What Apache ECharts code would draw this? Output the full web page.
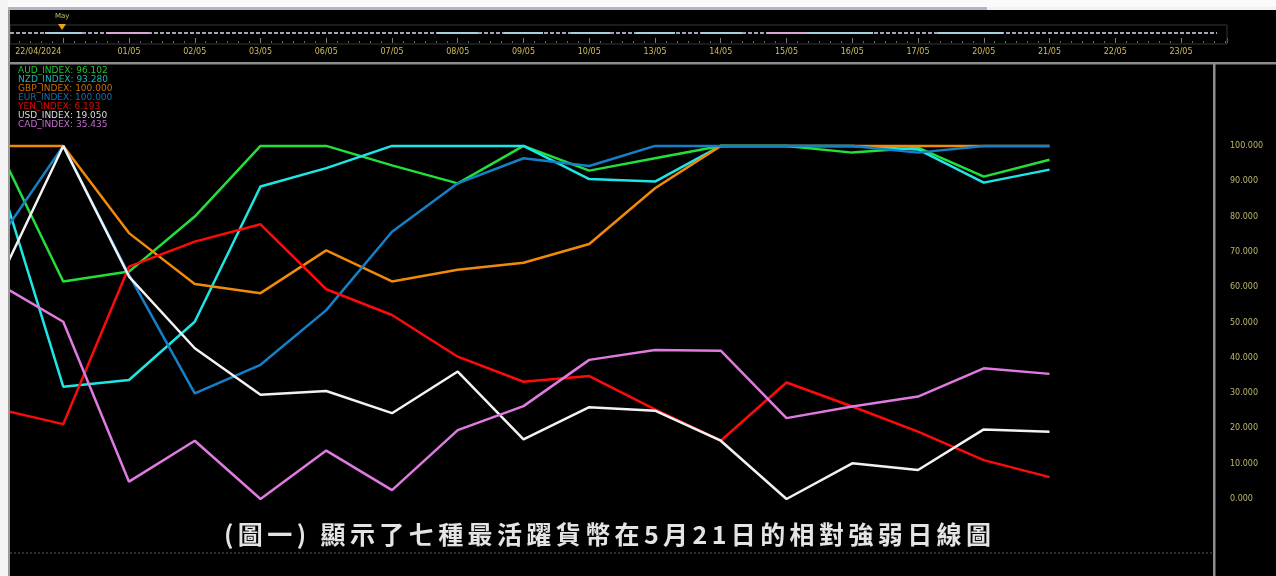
<!DOCTYPE html>
<html>
<head>
<meta charset="utf-8">
<script src="https://cdn.jsdelivr.net/npm/echarts@6/dist/echarts.min.js"></script>
<style>
  html, body { margin: 0; padding: 0; background: #000; }
  #chart { width: 1276px; height: 576px; }
</style>
</head>
<body>
<div id="chart"></div>
<script>
// trading days, index 0 = 29/04 (just off the left edge)
const days = ['29/04', '30/04', '01/05', '02/05', '03/05', '06/05', '07/05', '08/05', '09/05', '10/05',
  '13/05', '14/05', '15/05', '16/05', '17/05', '20/05', '21/05', '22/05', '23/05'];
const navLabels = ['', '22/04/2024', '01/05', '02/05', '03/05', '06/05', '07/05', '08/05', '09/05', '10/05',
  '13/05', '14/05', '15/05', '16/05', '17/05', '20/05', '21/05', '22/05', '23/05'];

const aud = [100, 61.6, 64.4, 80.0, 100, 100, 94.5, 89.4, 100, 93.0, 96.5, 100, 100, 98.1, 99.5, 91.3, 96.102];
const nzd = [92.5, 31.8, 33.7, 50.2, 88.5, 93.7, 100, 100, 100, 90.6, 89.9, 100, 100, 100, 99.0, 89.6, 93.28];
const gbp = [100, 100, 75.3, 60.9, 58.3, 70.4, 61.6, 64.9, 66.9, 72.2, 88.0, 100, 100, 100, 100, 100, 100];
const eur = [72.9, 100, 63.5, 29.9, 38.0, 53.5, 75.7, 89.4, 96.5, 94.3, 100, 100, 100, 100, 98.1, 100, 100];
const yen = [25.5, 21.2, 65.8, 72.9, 77.8, 59.4, 52.1, 40.3, 33.2, 34.8, 25.4, 16.5, 33.0, 26.2, 19.1, 11.0, 6.193];
const usd = [60.8, 100, 63.0, 42.7, 29.5, 30.6, 24.3, 36.1, 16.9, 26.0, 25.0, 16.5, 0, 10.1, 8.2, 19.7, 19.05];
const cad = [61.1, 50.2, 4.9, 16.5, 0, 13.7, 2.5, 19.5, 26.3, 39.4, 42.2, 42.0, 22.9, 26.2, 29.0, 37.0, 35.435];

const names = ['AUD_INDEX', 'NZD_INDEX', 'GBP_INDEX', 'EUR_INDEX', 'YEN_INDEX', 'USD_INDEX', 'CAD_INDEX'];
const values = [aud, nzd, gbp, eur, yen, usd, cad];
const lineColors = ['#22e03a', '#1ee6e6', '#f08a0a', '#1480c8', '#ff0a0a', '#f2f2f2', '#e07ae0'];
const labelColors = ['#1fc42f', '#1cb4b4', '#c86e08', '#1a6cb4', '#d80808', '#dcdcdc', '#c46cd0'];

const caption = '(圖一) 顯示了七種最活躍貨幣在5月21日的相對強弱日線圖';

// layout: x pixel of day 0 and pixel step per trading day
const X0 = -2.5;
const STEP = 65.75;

const chart = echarts.init(document.getElementById('chart'));

const series = values.map((vals, k) => ({
    name: names[k],
    type: 'line',
    xAxisIndex: 0,
    yAxisIndex: 0,
    data: vals.map((v, i) => [i, v]),
    symbol: 'none',
    lineStyle: { color: lineColors[k], width: 2.5 },
    itemStyle: { color: lineColors[k] },
    z: 2 + k,
}));

const legendTexts = names.map((n, k) => ({
    type: 'text',
    z: 50,
    left: 18,
    top: 66 + k * 9,
    style: {
        text: n + ': ' + values[k][values[k].length - 1].toFixed(3),
        fill: labelColors[k],
        font: '9px "DejaVu Sans"',
    },
}));

// caption is spread out letter by letter, like the original
const capFont = 'bold 25px "Noto Sans CJK TC"';
const ctx = document.createElement('canvas').getContext('2d');
ctx.font = capFont;
const capChars = Array.from(caption);
const capWidths = capChars.map(c => ctx.measureText(c).width);
const capLeft = 224, capRight = 991;
const capGap = (capRight - capLeft - capWidths.reduce((a, b) => a + b, 0)) / (capChars.length - 1);
let cx = capLeft;
const captionEls = capChars.map((c, i) => {
    const el = {
        type: 'text', z: 50, x: cx, y: 534,
        style: { text: c, fill: '#e4e4e4', font: capFont, verticalAlign: 'middle' },
    };
    cx += capWidths[i] + capGap;
    return el;
});

// coloured strip in the navigator: base dashes plus solid runs
const stripRuns = [
    [45, 82, '#a6cfe0'], [106, 149, '#d8a6d8'], [437, 478, '#a6cfe0'], [504, 543, '#a6cfe0'],
    [571, 610, '#a6cfe0'], [636, 675, '#a6cfe0'], [701, 742, '#a6cfe0'], [767, 807, '#d8a6d8'],
    [807, 873, '#a6cfe0'], [938, 1003, '#a6cfe0'],
];
const stripEls = stripRuns.map(r => ({
    type: 'line', z: 40,
    shape: { x1: r[0], y1: 33, x2: r[1], y2: 33 },
    style: { stroke: r[2], lineWidth: 2 },
}));

const option = {
    backgroundColor: '#000',
    animation: false,
    grid: [
        { left: X0, top: 64, width: 1214 - X0, height: 505.6, outerBoundsMode: 'none', containLabel: false },
        { left: X0, top: 35, width: 1227 - X0, height: 8, outerBoundsMode: 'none', containLabel: false },
    ],
    xAxis: [
        { gridIndex: 0, type: 'value', min: 0, max: (1214 - X0) / STEP, show: false },
        {
            gridIndex: 1, type: 'value', min: 0, max: (1227 - X0) / STEP, interval: 1, position: 'bottom',
            axisLine: { show: false },
            axisTick: { show: true, inside: true, length: 5, lineStyle: { color: '#7a7a7a' } },
            minorTick: { show: true, splitNumber: 6, length: 2, lineStyle: { color: '#666' } },
            splitLine: { show: false },
            axisLabel: {
                margin: 5, color: '#d0bc5c', fontSize: 8, fontFamily: 'DejaVu Sans',
                formatter: v => {
                    const s = navLabels[v];
                    if (!s) return '';
                    return v === 1 ? '{first|' + s + '}' : s;
                },
                rich: { first: { color: '#d0bc5c', fontSize: 8, fontFamily: 'DejaVu Sans', padding: [0, 50, 0, 0] } },
            },
        },
    ],
    yAxis: [
        {
            gridIndex: 0, type: 'value', position: 'right', offset: 7, min: -20, max: 123.2, interval: 10,
            axisLine: { show: true, lineStyle: { color: '#000', width: 0 } },
            axisTick: { show: true, length: 6, lineStyle: { color: '#6a6a6a' } },
            minorTick: { show: true, splitNumber: 5, length: 3, lineStyle: { color: '#555' } },
            splitLine: { show: false },
            axisLabel: {
                color: '#bdb76b', fontSize: 8, fontFamily: 'DejaVu Sans', margin: 9,
                formatter: v => (v < 0 || v > 100) ? '' : v.toFixed(3),
            },
        },
        { gridIndex: 1, type: 'value', show: false },
    ],
    series: series,
    graphic: {
        elements: [
            { type: 'rect', z: 60, shape: { x: 0, y: 0, width: 1276, height: 8 }, style: { fill: '#fafafa' } },
            { type: 'rect', z: 61, shape: { x: 8, y: 7, width: 979, height: 3 }, style: { fill: '#b4b4c6' } },
            { type: 'rect', z: 60, shape: { x: 987, y: 7, width: 289, height: 3 }, style: { fill: '#f2f2f2' } },
            { type: 'rect', z: 60, shape: { x: 0, y: 0, width: 8, height: 576 }, style: { fill: '#f4f4f4' } },
            { type: 'rect', z: 60, shape: { x: 8, y: 10, width: 2, height: 566 }, style: { fill: '#9a9a9a' } },
            { type: 'rect', z: 60, shape: { x: 9, y: 62, width: 1267, height: 2.5 }, style: { fill: '#8c8c8c' } },
            { type: 'rect', z: 60, shape: { x: 1213, y: 63, width: 2.5, height: 513 }, style: { fill: '#8e8e8e' } },
            {
                type: 'rect', z: 39, shape: { x: 10, y: 25, width: 1217, height: 19 },
                style: { fill: null, stroke: '#363636', lineWidth: 1 },
            },
            {
                type: 'line', z: 39, shape: { x1: 10, y1: 33, x2: 1217, y2: 33 },
                style: { stroke: '#a4a4b2', lineWidth: 2, lineDash: [4, 2] },
            },
            ...stripEls,
            {
                type: 'text', z: 50, left: 55, top: 13,
                style: { text: 'May', fill: '#c8c070', font: '7px "DejaVu Sans"' },
            },
            {
                type: 'polygon', z: 50, shape: { points: [[58, 24], [66, 24], [62, 30]] },
                style: { fill: '#f0a020' },
            },
            {
                type: 'line', z: 39, shape: { x1: 10, y1: 553, x2: 1213, y2: 553 },
                style: { stroke: '#5a5a5a', lineWidth: 1, lineDash: [2, 2] },
            },
            ...legendTexts,
            ...captionEls,
        ],
    },
};

chart.setOption(option);
</script>
</body>
</html>
